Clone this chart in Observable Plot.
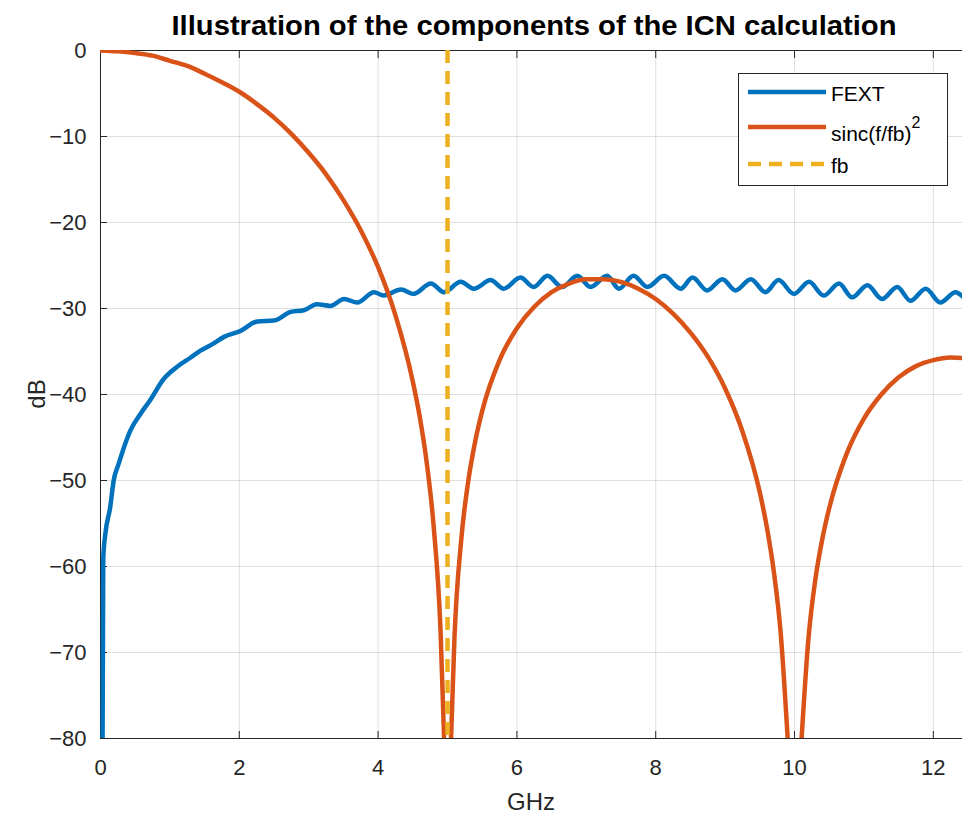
<!DOCTYPE html>
<html>
<head>
<meta charset="utf-8">
<script src="https://cdn.jsdelivr.net/npm/d3@7"></script>
<script src="https://cdn.jsdelivr.net/npm/@observablehq/plot@0.6"></script>
<style>
html, body { margin: 0; padding: 0; background: #fff; }
#chart { width: 962px; height: 817px; overflow: hidden; }
</style>
</head>
<body>
<div id="chart"></div>
<script>
// ---- text ----
const chartTitle = "Illustration of the components of the ICN calculation";
const xLabel = "GHz";
const yLabel = "dB";
const seriesNames = ["FEXT", "sinc(f/fb)", "fb"];

// ---- ticks ----
const xTicks = [0, 2, 4, 6, 8, 10, 12];
const yTicks = [-80, -70, -60, -50, -40, -30, -20, -10, 0];
const xDomain = [0, 12.42];
const yDomain = [-80, 0];

// ---- FEXT (GHz, dB) ----
const fextF = [0.03, 0.04, 0.07, 0.14, 0.19, 0.26, 0.34, 0.43, 0.58, 0.72,
  0.91, 1.1, 1.3, 1.44, 1.6, 1.78, 2.02, 2.26, 2.5, 2.74,
  2.93, 3.12, 3.31, 3.51, 3.7, 3.94, 4.08, 4.33, 4.51, 4.76,
  4.95, 5.19, 5.38, 5.62, 5.81, 6.05, 6.24, 6.44, 6.65, 6.87,
  7.06, 7.3, 7.47, 7.68, 7.88, 8.12, 8.36, 8.53, 8.74, 8.96,
  9.15, 9.37, 9.58, 9.77, 9.99, 10.21, 10.42, 10.64, 10.83, 11.05,
  11.26, 11.48, 11.67, 11.89, 12.1, 12.32, 12.42];
const fextDb = [-80, -59, -56.2, -53.1, -50, -48.1, -46.1, -44.2, -42.2, -40.6,
  -38.2, -36.8, -35.7, -34.9, -34.2, -33.3, -32.6, -31.5, -31.4, -30.4,
  -30.2, -29.5, -29.7, -28.9, -29.3, -28.1, -28.5, -27.8, -28.3, -27.1,
  -28.1, -26.9, -27.7, -26.7, -27.7, -26.4, -27.5, -26.2, -27.5, -26.2,
  -27.5, -26.2, -27.7, -26.2, -27.5, -26.2, -27.7, -26.4, -27.9, -26.6,
  -27.9, -26.6, -28.1, -26.7, -28.3, -26.9, -28.5, -27.1, -28.7, -27.3,
  -28.9, -27.5, -29.1, -27.7, -29.3, -28.1, -28.6];

// ---- sinc(f/fb)^2 (GHz, dB); null = gap at the nulls ----
const sincF = [0, 0.25, 0.5, 0.75, 1, 1.25, 1.5, 1.75, 2, 2.25,
  2.5, 2.75, 3, 3.25, 3.5, 3.75, 4, 4.25, 4.5, 4.6,
  4.7, 4.8, 4.9, 4.95, 5, 5.05, 5.1, 5.2, 5.3, 5.4,
  5.5, 5.75, 6, 6.25, 6.5, 6.75, 7, 7.25, 7.5, 7.75,
  8, 8.25, 8.5, 8.75, 9, 9.25, 9.5, 9.6, 9.7, 9.8,
  9.9, 10, 10.1, 10.2, 10.3, 10.4, 10.5, 10.75, 11, 11.25,
  11.5, 11.75, 12, 12.25, 12.5];
const sincDb = [0, -0.1, -0.3, -0.6, -1.2, -1.8, -2.7, -3.7, -4.8, -6.2,
  -7.8, -9.7, -11.9, -14.4, -17.4, -20.9, -25.2, -30.8, -38.5, -42.6,
  -47.9, -55.3, -67.6, -79.8, null, -80.2, -68.3, -56.7, -50, -45.4,
  -41.9, -36, -32.3, -29.8, -28.1, -27.1, -26.6, -26.6, -26.9, -27.7,
  -28.9, -30.6, -32.8, -35.6, -39.3, -44.3, -51.4, -55.4, -60.5, -67.7,
  -79.8, null, -80.2, -68.4, -61.5, -56.8, -53.2, -46.9, -42.8, -40,
  -38, -36.7, -36, -35.7, -35.8];

// ---- fb marker (GHz) ----
const fbValue = [5];

// ---- style ----
const colors = ["#0072BD", "#D95319", "#EDB120"];
const ink = "#262626";
const font = "'Liberation Sans', Arial, Helvetica, sans-serif";

const fext = fextF.map((f, i) => ({f, db: fextDb[i]}));
const sinc = sincF.map((f, i) => ({f, db: sincDb[i]}));
const fmt = d => (d < 0 ? "\u2212" + Math.abs(d) : String(d));

const plot = Plot.plot({
  width: 962,
  height: 817,
  marginTop: 50,
  marginLeft: 100,
  marginRight: 0,
  marginBottom: 79,
  style: {fontFamily: font, fontSize: "22px", color: ink, background: "#fff"},
  x: {domain: xDomain, ticks: xTicks, label: null},
  y: {domain: yDomain, ticks: yTicks, label: null},
  marks: [
    Plot.gridX(xTicks, {stroke: ink, strokeOpacity: 0.15, strokeWidth: 1}),
    Plot.gridY(yTicks, {stroke: ink, strokeOpacity: 0.15, strokeWidth: 1}),
    Plot.ruleX([xDomain[0]], {stroke: ink, strokeWidth: 1}),
    Plot.ruleY([yDomain[0]], {stroke: ink, strokeWidth: 1}),
    Plot.ruleY([yDomain[1]], {stroke: ink, strokeWidth: 1}),
    Plot.axisX(xTicks, {anchor: "bottom", tickSize: 0, tickPadding: 21, label: null, tickFormat: fmt, fontSize: 22}),
    Plot.axisX(xTicks, {anchor: "bottom", tickSize: 7, dy: -7, fill: "none", stroke: ink, label: null}),
    Plot.axisX(xTicks, {anchor: "top", tickSize: 7, dy: 7, fill: "none", stroke: ink, label: null}),
    Plot.axisY(yTicks, {anchor: "left", tickSize: 0, tickPadding: 14, label: null, tickFormat: fmt, fontSize: 22}),
    Plot.axisY(yTicks, {anchor: "left", tickSize: 7, dx: 7, fill: "none", stroke: ink, label: null}),
    Plot.line(fext, {x: "f", y: "db", stroke: colors[0], strokeWidth: 4.5, curve: "monotone-x", clip: true}),
    Plot.line(sinc, {x: "f", y: "db", stroke: colors[1], strokeWidth: 4.5, curve: "monotone-x", clip: true}),
    Plot.ruleX(fbValue, {stroke: colors[2], strokeWidth: 4.5, strokeDasharray: "13,8", clip: true})
  ]
});

document.getElementById("chart").appendChild(plot);

// ---- title, axis labels, legend (layout text) ----
const svg = d3.select(plot);
svg.append("text")
  .attr("x", 534).attr("y", 35)
  .attr("text-anchor", "middle")
  .attr("font-family", "'Liberation Sans Narrow', 'Liberation Sans', Arial, sans-serif")
  .attr("font-weight", "bold")
  .attr("font-size", 27)
  .attr("fill", "#000")
  .attr("textLength", 725)
  .attr("lengthAdjust", "spacingAndGlyphs")
  .text(chartTitle);

svg.append("text")
  .attr("x", 531).attr("y", 810)
  .attr("text-anchor", "middle")
  .attr("font-family", font).attr("font-size", 24).attr("fill", ink)
  .text(xLabel);

svg.append("text")
  .attr("transform", "translate(45,394) rotate(-90)")
  .attr("text-anchor", "middle")
  .attr("font-family", font).attr("font-size", 24).attr("fill", ink)
  .text(yLabel);

const lg = svg.append("g")
  .attr("font-family", font).attr("font-size", 21).attr("fill", "#000")
  .attr("text-anchor", "start");
lg.append("rect").attr("x", 738.5).attr("y", 73.5).attr("width", 209).attr("height", 112)
  .attr("fill", "#fff").attr("stroke", ink).attr("stroke-width", 1);
const lineY = [92, 127, 164];
const textY = [101, 141, 173];
const dashes = [null, null, "13,8"];
seriesNames.forEach((name, i) => {
  lg.append("line").attr("x1", 748).attr("x2", 826).attr("y1", lineY[i]).attr("y2", lineY[i])
    .attr("stroke", colors[i]).attr("stroke-width", 4.5).attr("stroke-dasharray", dashes[i]);
  const t = lg.append("text").attr("x", 831).attr("y", textY[i]).attr("text-anchor", "start").text(name);
  if (i === 1) {
    t.append("tspan").attr("dy", -13).attr("font-size", 16).text("2");
  }
});
</script>
</body>
</html>
